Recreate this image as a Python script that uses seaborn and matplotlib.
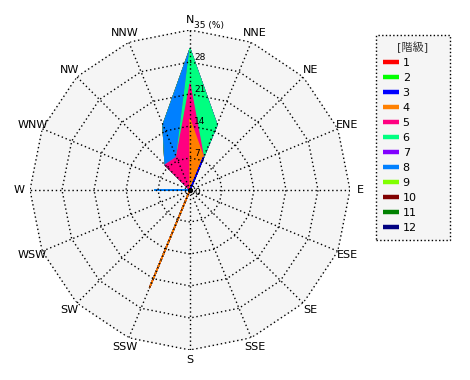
import numpy as np
import pandas as pd
import matplotlib
matplotlib.use("Agg")
import matplotlib.pyplot as plt
from matplotlib.lines import Line2D
import seaborn as sns

# wind directions, clockwise from north
directions = ['N', 'NNE', 'NE', 'ENE', 'E', 'ESE', 'SE', 'SSE',
              'S', 'SSW', 'SW', 'WSW', 'W', 'WNW', 'NW', 'NNW']
class_labels = [str(i) for i in range(1, 13)]
class_colors = ['#ff0000', '#00ff00', '#0000ff', '#ff8000', '#ff0080', '#00ff80',
                '#8000ff', '#0080ff', '#80ff00', '#800000', '#008000', '#000080']

# frequency (%) per direction for each class (classes not listed are 0)
#          N    NNE  NE   ENE  E    ESE  SE   SSE  S    SSW   SW   WSW  W    WNW  NW   NNW
pct_3 = [0.0, 7.7, 0.0, 0.0, 0.0, 0.0, 0.0, 0.0, 0.0, 0.0, 0.0, 0.0, 0.0, 0.0, 0.0, 0.0]
pct_4 = [15.4, 0.0, 0.0, 0.0, 0.0, 0.0, 0.0, 0.0, 0.0, 23.1, 0.0, 0.0, 0.0, 0.0, 0.0, 0.0]
pct_5 = [7.7, 0.0, 0.0, 0.0, 0.0, 0.0, 0.0, 0.0, 0.0, 0.0, 0.0, 0.0, 0.0, 0.0, 7.7, 7.7]
pct_6 = [7.7, 7.7, 0.0, 0.0, 0.0, 0.0, 0.0, 0.0, 0.0, 0.0, 0.0, 0.0, 0.0, 0.0, 0.0, 0.0]
pct_8 = [0.0, 0.0, 0.0, 0.0, 0.0, 0.0, 0.0, 0.0, 0.0, 0.0, 0.0, 0.0, 7.7, 0.0, 0.0, 7.7]

ring_values = [7, 14, 21, 28, 35]
r_max = 35

class_pct = {c: np.zeros(len(directions)) for c in class_labels}
class_pct['3'] = np.array(pct_3)
class_pct['4'] = np.array(pct_4)
class_pct['5'] = np.array(pct_5)
class_pct['6'] = np.array(pct_6)
class_pct['8'] = np.array(pct_8)

theta = np.deg2rad(np.arange(len(directions)) * 22.5)
cum = np.cumsum(np.vstack([class_pct[c] for c in class_labels]), axis=0)

rows = []
for k, c in enumerate(class_labels):
    for i, d in enumerate(directions + [directions[0]]):
        j = i % len(directions)
        rows.append({'cls': c, 'order': i, 'theta': theta[j], 'r': cum[k, j]})
df = pd.DataFrame(rows)

sns.set_theme(style='white', rc={'text.color': 'black'})
plt.rcParams['font.family'] = ['DejaVu Sans', 'Noto Sans CJK JP']

fig = plt.figure(figsize=(4.7, 3.8), dpi=100)
ax = fig.add_axes([30 / 470, 30 / 380, 320 / 470, 320 / 380], projection='polar')
ax.set_theta_zero_location('N')
ax.set_theta_direction(-1)
ax.set_ylim(0, r_max)
ax.patch.set_visible(False)
ax.spines['polar'].set_visible(False)
ax.grid(False)
ax.set_xticks([])
ax.set_yticks([])

th_closed = np.append(theta, theta[0])

# background polygon
ax.fill(th_closed, np.full(len(th_closed), r_max), color='#f5f5f5', zorder=0)

# class polygons, largest cumulative first
for k in range(len(class_labels) - 1, -1, -1):
    c = class_labels[k]
    sub = df[df['cls'] == c].sort_values('order')
    if sub['r'].max() == 0:
        continue
    ax.fill(sub['theta'], sub['r'], color=class_colors[k], lw=0, zorder=2)
    sns.lineplot(data=sub, x='theta', y='r', sort=False, estimator=None,
                 color=class_colors[k], lw=1.0, ax=ax, zorder=2)
ax.set_xlabel('')
ax.set_ylabel('')

# polygonal grid
for rv in ring_values:
    ax.plot(th_closed, np.full(len(th_closed), rv), color='black', lw=1,
            ls=(0, (1, 2)), zorder=3)
for t in theta:
    ax.plot([t, t], [0, r_max], color='black', lw=1, ls=(0, (1, 2)), zorder=3)

ax.plot([0], [0], 'o', color='black', ms=2.8, zorder=4)

# ring labels
ax.annotate('0', xy=(0, 0), xytext=(3, -2), textcoords='offset points',
            fontsize=6.5, ha='left', va='center', color='black', zorder=5)
for rv in ring_values:
    label = f'{rv} (%)' if rv == r_max else str(rv)
    ax.annotate(label, xy=(0, rv), xytext=(3, 0), textcoords='offset points',
                fontsize=6.5, ha='left', va='bottom', color='black', zorder=5)

# direction labels
for t, d in zip(theta, directions):
    ax.text(t, r_max * 1.065, d, fontsize=8, ha='center', va='center', color='black')

handles = [Line2D([0], [0], color=col, lw=3.2, solid_capstyle='butt') for col in class_colors]
leg = fig.legend(handles, class_labels, title='[階級]', loc='upper left',
                 bbox_to_anchor=(376 / 470, 1 - 243 / 380, 74 / 470, 208 / 380),
                 mode='expand', borderaxespad=0, fontsize=8, title_fontsize=8,
                 handlelength=1.45, handletextpad=0.35, labelspacing=0.45,
                 borderpad=0.6, frameon=True, fancybox=False, framealpha=1)
leg.get_title().set_color('#333333')
for txt in leg.get_texts():
    txt.set_color('black')
frame = leg.get_frame()
frame.set_facecolor('#f5f5f5')
frame.set_edgecolor('black')
frame.set_linestyle(':')
frame.set_linewidth(1)

fig.savefig('out.png', dpi=100)
